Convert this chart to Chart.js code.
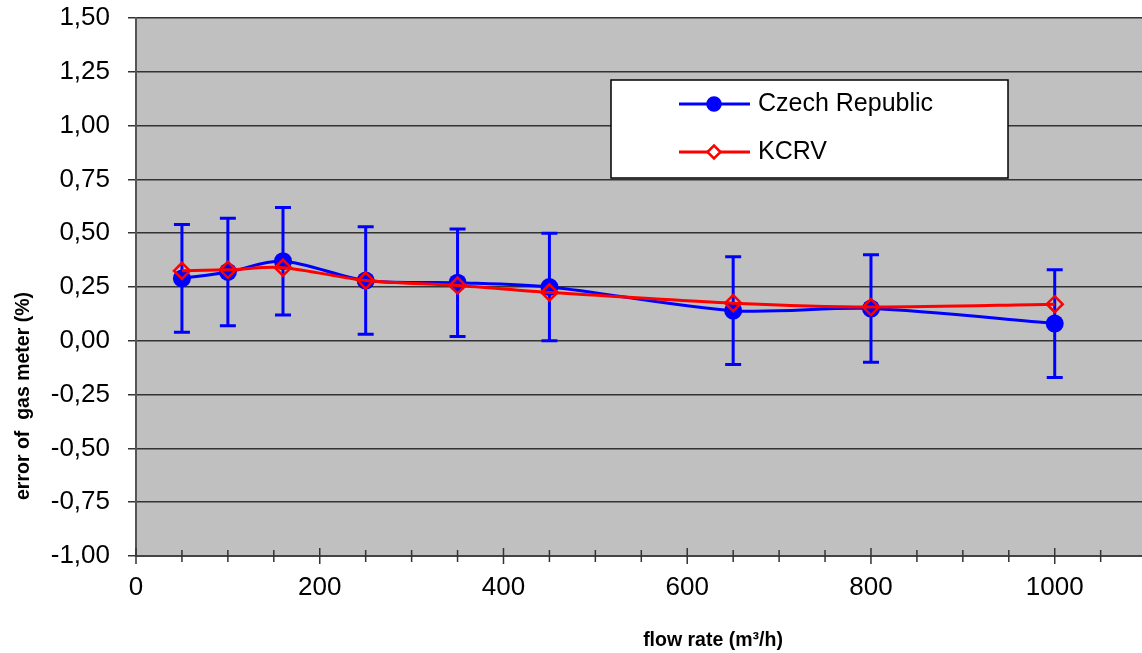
<!DOCTYPE html>
<html>
<head>
<meta charset="utf-8">
<script src="https://cdn.jsdelivr.net/npm/chart.js@4"></script>
<style>
  html, body { margin: 0; padding: 0; background: #fff; }
  #wrap { width: 1142px; height: 653px; }
</style>
</head>
<body>
<div id="wrap"><canvas id="chart" width="1142" height="653"></canvas></div>
<script>
// flow rate points (m3/h)
const flowRates = [50, 100, 160, 250, 350, 450, 650, 800, 1000];
// error of gas meter (%)
const czechErrors = [0.29, 0.32, 0.37, 0.28, 0.27, 0.25, 0.14, 0.15, 0.08];
const czechUncert = [0.25, 0.25, 0.25, 0.25, 0.25, 0.25, 0.25, 0.25, 0.25];
const kcrvErrors = [0.325, 0.33, 0.34, 0.28, 0.257, 0.225, 0.175, 0.157, 0.17];
const seriesNames = ['Czech Republic', 'KCRV'];
const yTickValues = [1.5, 1.25, 1, 0.75, 0.5, 0.25, 0, -0.25, -0.5, -0.75, -1];

const FONT = 'Liberation Sans, Arial, sans-serif';
const BLUE = '#0000ff';
const RED = '#ff0000';

const pts = (ys) => flowRates.map((x, i) => ({ x, y: ys[i] }));

// grey plot background
const plotBg = {
  id: 'plotBg',
  beforeDraw(chart) {
    const { ctx, chartArea: a } = chart;
    ctx.save();
    ctx.fillStyle = '#c0c0c0';
    ctx.fillRect(a.left, a.top, a.right - a.left, a.bottom - a.top);
    ctx.restore();
  }
};

// vertical error bars for the Czech series
const errorBars = {
  id: 'errorBars',
  beforeDatasetsDraw(chart) {
    const { ctx, scales: { x, y } } = chart;
    ctx.save();
    ctx.strokeStyle = BLUE;
    ctx.lineWidth = 3;
    flowRates.forEach((f, i) => {
      const px = x.getPixelForValue(f);
      const top = y.getPixelForValue(czechErrors[i] + czechUncert[i]);
      const bot = y.getPixelForValue(czechErrors[i] - czechUncert[i]);
      ctx.beginPath();
      ctx.moveTo(px, top); ctx.lineTo(px, bot);
      ctx.moveTo(px - 8, top); ctx.lineTo(px + 8, top);
      ctx.moveTo(px - 8, bot); ctx.lineTo(px + 8, bot);
      ctx.stroke();
    });
    ctx.restore();
  }
};

// x tick marks crossing the axis, legend box, axis titles
const extras = {
  id: 'extras',
  afterDraw(chart) {
    const { ctx, chartArea: a, scales: { x } } = chart;
    ctx.save();
    ctx.strokeStyle = '#333';
    ctx.lineWidth = 1.5;
    for (let v = 0; v <= x.max; v += 50) {
      const px = x.getPixelForValue(v);
      const len = v % 200 === 0 ? 8 : 6;
      ctx.beginPath();
      ctx.moveTo(px, a.bottom - len);
      ctx.lineTo(px, a.bottom + len);
      ctx.stroke();
    }

    // legend
    const lx = 611, ly = 80, lw = 397, lh = 98;
    ctx.fillStyle = '#fff';
    ctx.fillRect(lx, ly, lw, lh);
    ctx.strokeStyle = '#000';
    ctx.lineWidth = 1.5;
    ctx.strokeRect(lx, ly, lw, lh);
    const rows = [
      { y: 104, color: BLUE, style: 'circle', r: 6.5, fill: BLUE },
      { y: 152, color: RED, style: 'diamond', r: 6.5, fill: '#fff' }
    ];
    rows.forEach((row, i) => {
      ctx.strokeStyle = row.color;
      ctx.lineWidth = 3;
      ctx.beginPath();
      ctx.moveTo(679, row.y); ctx.lineTo(750, row.y);
      ctx.stroke();
      ctx.lineWidth = 2.5;
      ctx.fillStyle = row.fill;
      ctx.beginPath();
      if (row.style === 'circle') {
        ctx.arc(714, row.y, row.r, 0, Math.PI * 2);
      } else {
        ctx.moveTo(714 - row.r, row.y); ctx.lineTo(714, row.y - row.r);
        ctx.lineTo(714 + row.r, row.y); ctx.lineTo(714, row.y + row.r);
        ctx.closePath();
      }
      ctx.fill();
      ctx.stroke();
      ctx.fillStyle = '#000';
      ctx.font = '25px ' + FONT;
      ctx.textBaseline = 'middle';
      ctx.textAlign = 'left';
      ctx.fillText(seriesNames[i], 758, row.y);
    });

    // x axis title
    ctx.fillStyle = '#000';
    ctx.font = 'bold 19.5px ' + FONT;
    ctx.textAlign = 'center';
    ctx.textBaseline = 'middle';
    ctx.fillText('flow rate (m³/h)', 713, 641);

    // y axis title
    ctx.translate(24, 396);
    ctx.rotate(-Math.PI / 2);
    ctx.fillText('error of  gas meter (%)', 0, 0);
    ctx.restore();
  }
};

window.onload = () => {
  const ctx = document.getElementById('chart').getContext('2d');
  new Chart(ctx, {
    type: 'line',
    data: {
      datasets: [
        {
          label: seriesNames[0],
          data: pts(czechErrors),
          borderColor: BLUE,
          backgroundColor: BLUE,
          borderWidth: 3,
          pointStyle: 'circle',
          pointRadius: 9,
          pointBorderWidth: 0,
          tension: 0.3,
          order: 2
        },
        {
          label: seriesNames[1],
          data: pts(kcrvErrors),
          borderColor: RED,
          backgroundColor: 'rgba(0,0,0,0)',
          borderWidth: 3,
          pointStyle: 'rectRot',
          pointRadius: 8,
          pointBorderWidth: 2.5,
          pointBorderColor: RED,
          tension: 0.3,
          order: 1
        }
      ]
    },
    options: {
      responsive: false,
      animation: false,
      layout: { autoPadding: false, padding: { top: 18, right: 0, left: 0, bottom: 0 } },
      plugins: { legend: { display: false }, tooltip: { enabled: false } },
      scales: {
        x: {
          type: 'linear',
          min: 0,
          max: 1095,
          grid: { display: false, drawTicks: false },
          border: { display: true, color: '#444', width: 2 },
          ticks: {
            stepSize: 50,
            includeBounds: false,
            autoSkip: false,
            maxRotation: 0,
            padding: 16,
            color: '#000',
            font: { family: FONT, size: 26 },
            callback: v => (v % 200 === 0 ? String(v) : '')
          },
          afterFit: s => { s.height = 97; s.paddingLeft = 0; s.paddingRight = 0; }
        },
        y: {
          min: -1,
          max: 1.5,
          afterBuildTicks: s => { s.ticks = yTickValues.map(value => ({ value })); },
          grid: { color: '#333', lineWidth: 1.5, tickLength: 8, drawTicks: true },
          border: { display: true, color: '#555', width: 2 },
          ticks: {
            padding: 18,
            color: '#000',
            font: { family: FONT, size: 26 },
            callback: v => v.toFixed(2).replace('.', ',')
          },
          afterFit: s => { s.width = 136; s.paddingTop = 0; s.paddingBottom = 0; }
        }
      }
    },
    plugins: [plotBg, errorBars, extras]
  });
};
</script>
</body>
</html>
